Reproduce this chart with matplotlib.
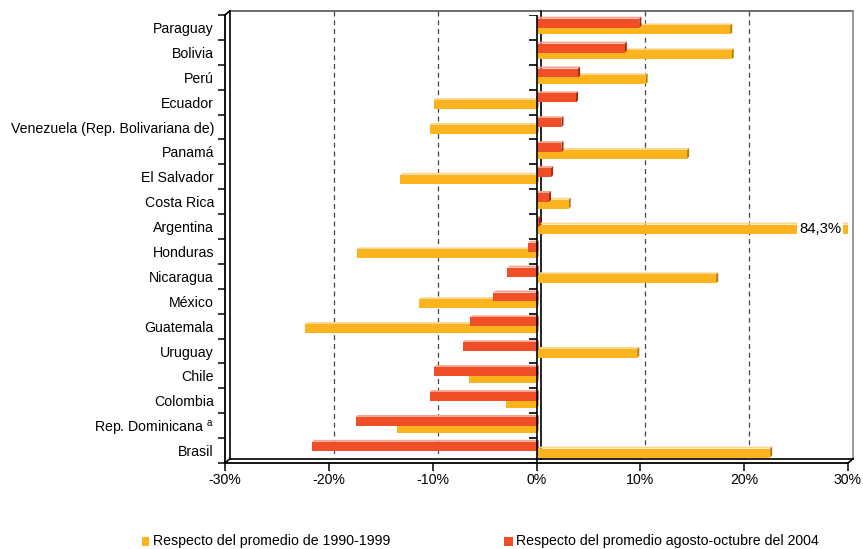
import numpy as np
import matplotlib
matplotlib.use('Agg')
import matplotlib.pyplot as plt
from matplotlib.patches import Rectangle

plt.rcParams['font.family'] = ['Liberation Sans', 'DejaVu Sans']
plt.rcParams['mathtext.fontset'] = 'custom'
plt.rcParams['mathtext.rm'] = 'Liberation Sans'

# data (percent change)
paises = ['Paraguay', 'Bolivia', 'Perú', 'Ecuador', 'Venezuela (Rep. Bolivariana de)',
          'Panamá', 'El Salvador', 'Costa Rica', 'Argentina', 'Honduras', 'Nicaragua',
          'México', 'Guatemala', 'Uruguay', 'Chile', 'Colombia',
          r'Rep. Dominicana $^{\rm a}$', 'Brasil']
prom_1990_1999 = [18.65, 18.8, 10.5, -9.9, -10.3, 14.5, -13.1, 3.1, 84.3, -17.3, 17.3,
                  -11.3, -22.3, 9.7, -6.5, -2.9, -13.4, 22.5]
prom_ago_oct_2004 = [9.9, 8.5, 4.0, 3.8, 2.4, 2.4, 1.4, 1.2, 0.2, -0.8, -2.8,
                     -4.2, -6.4, -7.1, -9.9, -10.3, -17.4, -21.6]
xticks = [-30, -20, -10, 0, 10, 20, 30]
label_1 = 'Respecto del promedio de 1990-1999'
label_2 = 'Respecto del promedio agosto-octubre del 2004'

c_nar = '#FBB41E'
c_nar_top = '#F8D690'
c_nar_side = '#B07E14'
c_roj = '#F04E27'
c_roj_top = '#F5A58F'
c_roj_side = '#9C2E14'

FS = 10.2
XMIN, XMAX = -30, 30
BX, BY = 0.48, 0.17     # offset of the back wall (3d look)
DX, DY = 0.2, 0.08      # depth of the bars
H = 0.36

fig = plt.figure(figsize=(8.63, 5.49), dpi=100)
ax = fig.add_axes([225/863, 1-463/549, 623/863, 448/549])
n = len(paises)
ax.set_xlim(XMIN, XMAX)
ax.set_ylim(n-0.5, -0.5)


def bar3d(y, v, col, top, side, z):
    x0, x1 = min(0, v), max(0, v)
    yt, yb = y - H/2, y + H/2
    ax.fill([x0, x1, x1+DX, x0+DX], [yt, yt, yt-DY, yt-DY], color=top, lw=0, zorder=z)
    ax.fill([x1, x1, x1+DX, x1+DX], [yt, yb, yb-DY, yt-DY], color=side, lw=0, zorder=z)
    ax.fill([x0, x1, x1, x0], [yt, yt, yb, yb], color=col, lw=0, zorder=z)


# back wall
yt_b, yb_b = -0.5-BY, n-0.5-BY
kw = dict(clip_on=False, lw=1.2)
ax.plot([XMIN+BX, XMAX+BX], [yt_b, yt_b], color='#555555', zorder=1, **kw)
ax.plot([XMAX+BX, XMAX+BX], [yt_b, yb_b], color='#888888', zorder=1, **kw)
ax.plot([XMIN+BX, XMIN+BX], [yt_b, yb_b], color='black', zorder=1, **kw)
ax.plot([XMIN+BX, XMAX+BX], [yb_b, yb_b], color='black', zorder=1, **kw)
ax.plot([XMIN, XMIN+BX], [-0.5, yt_b], color='black', zorder=1, **kw)
ax.plot([XMAX, XMAX+BX], [n-0.5, yb_b], color='black', zorder=1, **kw)
ax.plot([XMIN, XMIN+BX], [n-0.5, yb_b], color='black', zorder=1, **kw)
for t in xticks[1:-1]:
    if t == 0:
        ax.plot([BX, BX], [yt_b, yb_b], color='black', lw=1.2, zorder=1, clip_on=False)
    else:
        ax.plot([t+BX, t+BX], [yt_b, yb_b], color='#444444', lw=0.9, ls=(0, (4, 3)),
                zorder=1, clip_on=False)

ypos = np.arange(n)
for i in range(n):
    v = min(prom_1990_1999[i], XMAX)
    bar3d(ypos[i]+0.1, v, c_nar, c_nar_top, c_nar_side, 3)
    bar3d(ypos[i]-0.17, prom_ago_oct_2004[i], c_roj, c_roj_top, c_roj_side, 4)

# Argentina off the scale
ia = paises.index('Argentina')
ax.text(27.3, ia+0.1, '84,3%', ha='center', va='center', fontsize=FS+0.5, zorder=6,
        bbox=dict(facecolor='white', edgecolor='none', pad=1.5))

# front zero line with ticks
ax.plot([0, 0], [-0.5, n-0.5], color='black', lw=1.2, zorder=5)
ax.hlines(np.arange(n+1)-0.5, -0.75, 0, color='black', lw=1.2, zorder=5)

for s in ['top', 'right']:
    ax.spines[s].set_visible(False)
for s in ['left', 'bottom']:
    ax.spines[s].set_linewidth(1.3)
    ax.spines[s].set_zorder(6)

ax.set_xticks(xticks)
ax.set_xticklabels([f'{t}%' for t in xticks], fontsize=FS)
ax.tick_params(axis='x', length=6, width=1.1, pad=1.5)
ax.set_yticks(ypos)
ax.set_yticklabels(paises, fontsize=FS)
ax.set_yticks(np.arange(n+1)-0.5, minor=True)
ax.tick_params(axis='y', which='major', length=0, pad=8)
ax.tick_params(axis='y', which='minor', length=5, width=1.1)

# legend
fig.add_artist(Rectangle((141.7/863, 1-546/549), 7.5/863, 9.3/549,
                         transform=fig.transFigure, color=c_nar, lw=0))
fig.text(153/863, 1-541/549, label_1, va='center', fontsize=FS)
fig.add_artist(Rectangle((504/863, 1-546/549), 8.5/863, 9.3/549,
                         transform=fig.transFigure, color=c_roj, lw=0))
fig.text(516/863, 1-541/549, label_2, va='center', fontsize=FS)

plt.savefig('out.png', dpi=100)
